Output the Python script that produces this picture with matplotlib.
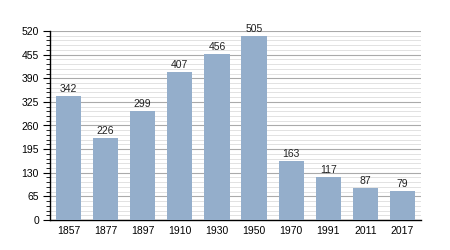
import matplotlib.pyplot as plt
from matplotlib.ticker import MultipleLocator

years = ["1857", "1877", "1897", "1910", "1930", "1950", "1970", "1991", "2011", "2017"]
population = [342, 226, 299, 407, 456, 505, 163, 117, 87, 79]

fig = plt.figure(figsize=(4.5, 2.5), dpi=100)
ax = fig.add_axes([50 / 450, 30 / 250, 371 / 450, 189 / 250])

x = range(len(years))
bars = ax.bar(x, population, width=0.68, color="#94aecb", zorder=3)
for xi, v in zip(x, population):
    ax.text(xi, v + 6, str(v), ha="center", va="bottom", fontsize=7.5,
            color="#222222", family="Liberation Sans", zorder=4)

ax.set_xlim(-0.5, len(years) - 0.5)
ax.set_ylim(0, 520)
ax.set_xticks(list(x))
ax.set_xticklabels(years)
ax.yaxis.set_major_locator(MultipleLocator(65))
ax.yaxis.set_minor_locator(MultipleLocator(13))
ax.grid(axis="y", which="major", color="#aaaaaa", linewidth=0.8, zorder=0)
ax.grid(axis="y", which="minor", color="#dddddd", linewidth=0.6, zorder=0)

for side in ["top", "right"]:
    ax.spines[side].set_visible(False)
ax.spines["left"].set_linewidth(1)
ax.spines["bottom"].set_linewidth(1)
ax.tick_params(axis="x", length=0, labelsize=7.5, pad=4)
ax.tick_params(axis="y", which="major", length=5, labelsize=7.5, pad=3)
ax.tick_params(axis="y", which="minor", length=3)
for lab in ax.get_xticklabels() + ax.get_yticklabels():
    lab.set_family("Liberation Sans")

fig.savefig("out.png", dpi=100)
